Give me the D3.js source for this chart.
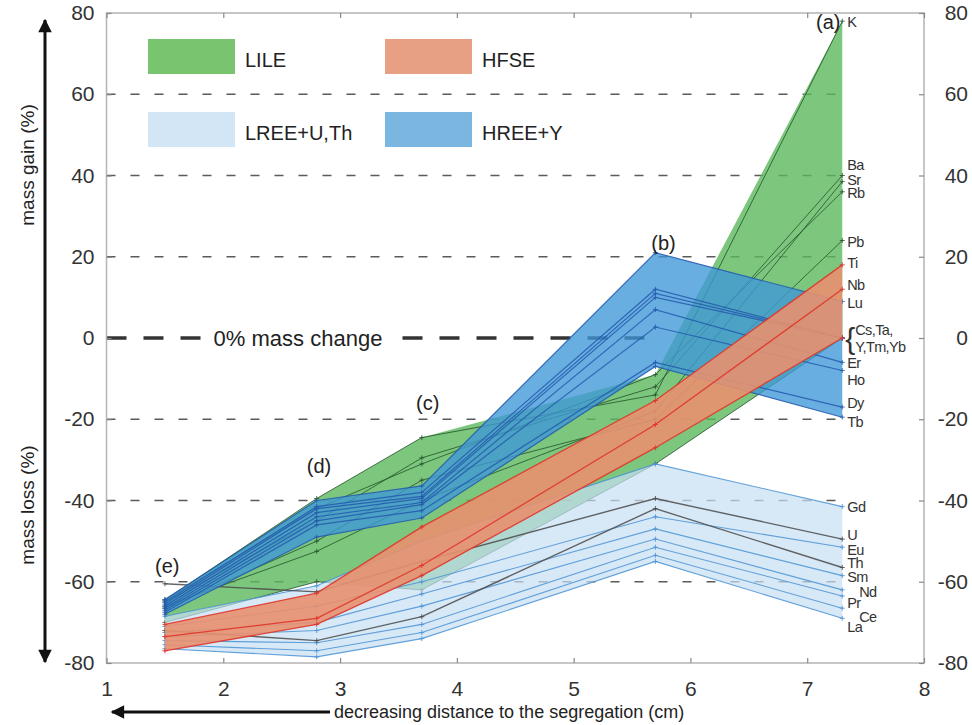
<!DOCTYPE html>
<html><head><meta charset="utf-8">
<script src="https://cdn.jsdelivr.net/npm/d3@7"></script>
<style>body{margin:0;background:#fff;} svg{display:block;font-family:"Liberation Sans",Arial,sans-serif;}</style>
</head><body>
<svg id="c" width="972" height="725"></svg>
<script>
// ---------- data ----------
const xPositions = [1.5, 2.8, 3.7, 5.7, 7.3];
const yTicks = [-80, -60, -40, -20, 0, 20, 40, 60, 80];
const xTicks = [1, 2, 3, 4, 5, 6, 7, 8];
const gridValues = [60, 40, 20, -20, -40, -60];

const lileNames = ["K", "Ba", "Sr", "Rb", "Pb", "Cs"];
const lileValues = [
  [-64.5, -39.5, -24.5, -14, 78],
  [-65, -45, -29.5, -12, 40],
  [-66, -52.5, -40, -18, 38.5],
  [-64.5, -42, -31, -9, 36],
  [-66.5, -50, -35, -20, 24],
  [-70, -60, -62, -31, 0]
];
const hfseNames = ["Ti", "Nb", "Ta"];
const hfseValues = [
  [-70.5, -62.8, -46.5, -15.4, 18],
  [-73.5, -69, -56, -21.3, 12],
  [-77, -70.5, -58.5, -27, 0]
];
const hreeNames = ["Lu", "Yb", "Tm", "Y", "Er", "Ho", "Dy", "Tb"];
const hreeValues = [
  [-64.4, -40, -36.4, 21, 9],
  [-65, -41.5, -38, 12, 0],
  [-65.5, -42, -39, 11, 0],
  [-66, -43, -39.5, 10, 0],
  [-66.5, -44, -40.5, 7, -6],
  [-67, -45, -41, 2.7, -8],
  [-67.5, -46, -42.5, -6, -17],
  [-68, -49, -44.3, -7, -19.5]
];
const lreeNames = ["Gd", "Eu", "Sm", "Nd", "Pr", "Ce", "La"];
const lreeValues = [
  [-68.5, -61, -50, -31, -41.5],
  [-71, -66, -60, -44, -51.5],
  [-72.5, -70, -63, -47, -58.5],
  [-73.5, -72, -66, -49.5, -62],
  [-74.5, -75, -70.5, -51.5, -63.5],
  [-75.5, -77, -72.5, -53.5, -66.5],
  [-76.5, -78.5, -74, -55, -69]
];
const actinideNames = ["U", "Th"];
const actinideValues = [
  [-60.5, -62.5, -55, -39.5, -49.5],
  [-72, -74.5, -68.6, -42, -56.5]
];

const legendNames = ["LILE", "HFSE", "LREE+U,Th", "HREE+Y"];
const panelNames = ["(a)", "(b)", "(c)", "(d)", "(e)"];
const panelX = [7.18, 5.77, 3.75, 2.82, 1.52];
const panelY = [77.8, 23.4, -16, -31.5, -56];

const endLabelNames = ["K","Ba","Sr","Rb","Pb","Ti","Nb","Lu","Er","Ho","Dy","Tb","Gd","U","Eu","Th","Sm","Nd","Pr","Ce","La"];
const endLabelY = [77.8, 42.6, 38.9, 35.7, 23.6, 18.5, 13, 8.6, -6.2, -10.3, -16, -20.7, -41.6, -48.5, -52.2, -55.4, -58.8, -62.5, -65.2, -68.7, -71.1];
const braceLines = ["Cs,Ta,", "Y,Tm,Yb"];
const braceY = [2, -2.2];

// ---------- layout ----------
const svg = d3.select("#c");
const L = 106.5, R = 924, T = 13, B = 663;
const x = d3.scaleLinear().domain([1, 8]).range([L, R]);
const y = d3.scaleLinear().domain([-80, 80]).range([B, T]);
const fmt = d => String(d);

// gridlines
svg.append("g").selectAll("line").data(gridValues).join("line")
  .attr("x1", x(1)).attr("x2", x(7.3))
  .attr("y1", d => y(d)).attr("y2", d => y(d))
  .attr("stroke", "#5a5a5a").attr("stroke-width", 1.5).attr("stroke-dasharray", "9,15");

// 0% mass change line
svg.append("line").attr("x1", x(1)).attr("x2", x(5.7)).attr("y1", y(0)).attr("y2", y(0))
  .attr("stroke", "#333").attr("stroke-width", 3.5).attr("stroke-dasharray", "20,17");
svg.append("rect").attr("x", 203).attr("y", y(0) - 13).attr("width", 190).attr("height", 26).attr("fill", "#fff");
svg.append("text").attr("x", 298).attr("y", y(0)).attr("dy", "0.35em").attr("text-anchor", "middle")
  .attr("font-size", 22).attr("fill", "#222").text("0% mass change");

// bands
function band(values) {
  return xPositions.map((xv, i) => ({x: xv, lo: d3.min(values, v => v[i]), hi: d3.max(values, v => v[i])}));
}
const area = d3.area().x(d => x(d.x)).y0(d => y(d.lo)).y1(d => y(d.hi));
const line = d3.line().x((d, i) => x(xPositions[i])).y(d => y(d));

function drawGroup(values, fill, fop) {
  svg.append("path").datum(band(values)).attr("d", area).attr("fill", fill).attr("fill-opacity", fop);
}
function drawLines(values, stroke, sw, op) {
  const g = svg.append("g");
  g.selectAll("path").data(values).join("path").attr("d", line)
    .attr("fill", "none").attr("stroke", stroke).attr("stroke-width", sw).attr("stroke-opacity", op);
  values.forEach(v => v.forEach((val, i) => {
    const px = x(xPositions[i]), py = y(val);
    g.append("path").attr("d", `M${px-2.5},${py}H${px+2.5}M${px},${py-2.5}V${py+2.5}`)
      .attr("stroke", stroke).attr("stroke-width", 1).attr("stroke-opacity", op);
  }));
}

drawGroup(lileValues, "#5cb85c", 0.8);
drawLines(lileValues, "#23512a", 1, 0.8);
drawGroup(lreeValues, "#c6def3", 0.7);
drawLines(lreeValues, "#4b93d3", 1.1, 0.85);
drawLines(actinideValues, "#4a4a4a", 1.4, 0.85);
drawGroup(hreeValues, "#3d97d8", 0.78);
drawLines(hreeValues, "#2459ad", 1.2, 0.85);
drawGroup(hfseValues, "#e8906f", 0.9);
drawLines(hfseValues, "#e0352a", 1.3, 0.9);

// frame + axes
const axisColor = "#b4b4b4";
svg.append("rect").attr("x", L).attr("y", T).attr("width", R - L).attr("height", B - T)
  .attr("fill", "none").attr("stroke", axisColor).attr("stroke-width", 1.5);

function styleAxis(g) {
  g.select(".domain").remove();
  g.selectAll(".tick line").attr("stroke", "#888").attr("stroke-width", 1.2);
  g.selectAll(".tick text").attr("fill", "#333").attr("font-size", 21).attr("font-family", '"Liberation Sans",Arial,sans-serif');
}
svg.append("g").attr("transform", `translate(${L},0)`)
  .call(d3.axisLeft(y).tickValues(yTicks).tickSizeInner(-5).tickSizeOuter(0).tickPadding(12).tickFormat(fmt))
  .call(styleAxis);
const rAx = svg.append("g").attr("transform", `translate(${R},0)`)
  .call(d3.axisRight(y).tickValues(yTicks).tickSizeInner(-5).tickSizeOuter(0).tickPadding(12).tickFormat(fmt))
  .call(styleAxis);
rAx.selectAll(".tick text").attr("text-anchor", "end").attr("x", 44);
svg.append("g").attr("transform", `translate(0,${B})`)
  .call(d3.axisBottom(x).tickValues(xTicks).tickSizeInner(-5).tickSizeOuter(0).tickPadding(18).tickFormat(fmt))
  .call(styleAxis);
svg.append("g").attr("transform", `translate(0,${T})`)
  .call(d3.axisTop(x).tickValues(xTicks).tickSizeInner(-5).tickSizeOuter(0).tickFormat(""))
  .call(styleAxis);

// legend
const legColors = ["#79c56f", "#e7a084", "#d3e6f5", "#7ab6df"];
const legX = [148, 385, 148, 385];
const legY = [39, 39, 112, 112];
legendNames.forEach((n, i) => {
  svg.append("rect").attr("x", legX[i]).attr("y", legY[i]).attr("width", 87).attr("height", 35).attr("fill", legColors[i]);
  svg.append("text").attr("x", legX[i] + 97).attr("y", legY[i] + 21).attr("dy", "0.35em")
    .attr("font-size", 20).attr("fill", "#222").text(n);
});

// panel letters
panelNames.forEach((n, i) => {
  svg.append("text").attr("x", x(panelX[i])).attr("y", y(panelY[i])).attr("dy", "0.35em")
    .attr("text-anchor", "middle").attr("font-size", 20).attr("fill", "#222").text(n);
});

// element end labels
const lx = x(7.3) + 5;
endLabelNames.forEach((n, i) => {
  const extra = (n === "Nd" || n === "Ce") ? 12 : 0;
  svg.append("text").attr("x", lx + extra).attr("y", y(endLabelY[i])).attr("dy", "0.33em")
    .attr("font-size", 14.5).attr("letter-spacing", -0.6).attr("fill", "#333").text(n);
});
svg.append("text").attr("x", lx - 2).attr("y", y(0)).attr("dy", "0.35em").attr("font-size", 30)
  .attr("fill", "#333").text("{");
braceLines.forEach((t, i) => {
  svg.append("text").attr("x", lx + 8).attr("y", y(braceY[i])).attr("dy", "0.35em")
    .attr("font-size", 14.5).attr("letter-spacing", -0.6).attr("fill", "#333").text(t);
});

// y-axis double arrow
const defs = svg.append("defs");
defs.append("marker").attr("id", "ah").attr("viewBox", "0 0 10 10").attr("refX", 9).attr("refY", 5)
  .attr("markerWidth", 5).attr("markerHeight", 4.5).attr("orient", "auto-start-reverse").attr("markerUnits", "strokeWidth")
  .append("path").attr("d", "M0,0L10,5L0,10Z").attr("fill", "#111");
svg.append("line").attr("x1", 45).attr("x2", 45).attr("y1", 20).attr("y2", 662)
  .attr("stroke", "#111").attr("stroke-width", 3).attr("marker-start", "url(#ah)").attr("marker-end", "url(#ah)");
svg.append("text").attr("transform", "translate(27,165) rotate(-90)").attr("text-anchor", "middle").attr("dy", "0.35em")
  .attr("font-size", 19).attr("fill", "#222").text("mass gain (%)");
svg.append("text").attr("transform", "translate(27,505) rotate(-90)").attr("text-anchor", "middle").attr("dy", "0.35em")
  .attr("font-size", 19).attr("fill", "#222").text("mass loss (%)");

// x-axis arrow + label
svg.append("line").attr("x1", 330).attr("x2", 112).attr("y1", 712).attr("y2", 712)
  .attr("stroke", "#111").attr("stroke-width", 3).attr("marker-end", "url(#ah)");
svg.append("text").attr("x", 334).attr("y", 712).attr("dy", "0.35em").attr("font-size", 18)
  .attr("fill", "#222").text("decreasing distance to the segregation (cm)");
</script>
</body></html>
